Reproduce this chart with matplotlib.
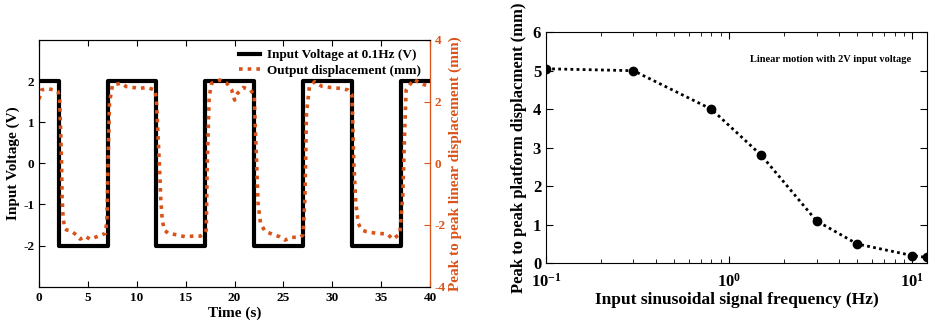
import matplotlib.pyplot as plt
import numpy as np

plt.rcParams['font.family'] = ['Liberation Serif', 'DejaVu Serif']
plt.rcParams['font.weight'] = 'bold'
plt.rcParams['axes.labelweight'] = 'bold'
plt.rcParams['axes.unicode_minus'] = False
plt.rcParams['mathtext.fontset'] = 'custom'
plt.rcParams['mathtext.rm'] = 'Liberation Serif:bold'
plt.rcParams['mathtext.default'] = 'rm'

ORANGE = '#D95319'

# input square wave (V)
volt_t = [0, 2, 2, 7, 7, 12, 12, 17, 17, 22, 22, 27, 27, 32, 32, 37, 37, 40]
volt_v = [2, 2, -2, -2, 2, 2, -2, -2, 2, 2, -2, -2, 2, 2, -2, -2, 2, 2]

# measured displacement (mm)
disp_t = [0.0, 0.25, 0.8, 1.6, 1.95, 2.1, 2.2, 2.3, 2.35, 2.45, 2.6, 2.8, 3.3, 3.8, 4.2,
          4.7, 5.2, 5.9, 6.4, 6.8, 6.95, 7.05, 7.2, 7.5, 8.4, 8.9, 9.6, 10.3, 11.0, 11.85,
          12.0, 12.3, 12.45, 12.6, 12.8, 13.2, 14.1, 14.9, 15.8, 16.5, 16.9, 17.1, 17.2,
          17.4, 17.65, 18.5, 19.2, 19.7, 20.0, 20.3, 20.9, 21.6, 22.0, 22.25, 22.4, 22.65,
          23.1, 24.0, 24.6, 25.15, 25.8, 26.7, 27.0, 27.2, 27.35, 27.65, 28.2, 28.9, 29.8,
          30.8, 31.6, 32.0, 32.2, 32.4, 32.65, 33.0, 33.5, 34.5, 35.6, 36.2, 36.9, 37.2,
          37.4, 37.55, 38.3, 39.0, 39.8]
disp_mm = [2.08, 2.38, 2.42, 2.38, 2.32, 2.05, 1.08, 0.0, -1.08, -1.73, -2.1, -2.16, -2.2,
           -2.32, -2.46, -2.36, -2.46, -2.38, -2.32, -2.27, -1.73, 0.0, 1.95, 2.54, 2.6,
           2.49, 2.46, 2.43, 2.46, 2.38, 2.05, 0.0, -1.19, -1.84, -2.16, -2.27, -2.32,
           -2.38, -2.36, -2.36, -2.29, -2.16, 0.0, 2.16, 2.6, 2.7, 2.6, 2.38, 2.05, 2.27,
           2.46, 2.38, 2.22, 0.0, -1.3, -1.95, -2.2, -2.32, -2.38, -2.49, -2.4, -2.4, -2.32,
           -1.08, 1.62, 2.49, 2.65, 2.5, 2.46, 2.43, 2.38, 2.22, 0.0, -1.3, -1.95, -2.16,
           -2.22, -2.27, -2.29, -2.46, -2.29, -1.08, 1.08, 2.38, 2.72, 2.6, 2.5]

# frequency response
freq_hz = [0.1, 0.3, 0.8, 1.5, 3, 5, 10, 12]
p2p_mm = [5.05, 5.0, 4.0, 2.8, 1.1, 0.5, 0.2, 0.15]

fig = plt.figure(figsize=(9.31, 3.25), dpi=100)

# ---- left panel
ax1 = fig.add_axes([0.042, 0.118, 0.420, 0.759])
ax1.plot(volt_t, volt_v, color='black', lw=3, label='Input Voltage at 0.1Hz (V)')
ax1.set_xlim(0, 40)
ax1.set_ylim(-3, 3)
ax1.set_yticks([-2, -1, 0, 1, 2])
ax1.set_xticks(range(0, 41, 5))
ax1.tick_params(direction='in', labelsize=9.5, top=True, length=4, width=0.8)
ax1.set_xlabel('Time (s)', fontsize=11, labelpad=2)
ax1.set_ylabel('Input Voltage (V)', fontsize=11, labelpad=2)

ax2 = ax1.twinx()
ax2.plot(disp_t, disp_mm, color=ORANGE, lw=2.6, ls=(0, (1, 1.4)), label='Output displacement (mm)')
ax2.set_ylim(-4, 4)
ax2.set_yticks([-4, -2, 0, 2, 4])
ax2.tick_params(direction='in', labelsize=9.5, colors=ORANGE, length=4, width=0.8)
ax2.spines['right'].set_color(ORANGE)
ax2.set_ylabel('Peak to peak linear displacement (mm)', fontsize=11, color=ORANGE, labelpad=2)

h1, l1 = ax1.get_legend_handles_labels()
h2, l2 = ax2.get_legend_handles_labels()
ax2.legend(h1 + h2, l1 + l2, loc='upper right', frameon=False,
           handlelength=1.6, handletextpad=0.5, borderaxespad=0.3, labelspacing=0.25,
           prop={'weight': 'bold', 'size': 9.5})

# ---- right panel
ax3 = fig.add_axes([0.5865, 0.190, 0.409, 0.711])
ax3.plot(freq_hz, p2p_mm, color='black', lw=2, ls=(0, (1, 1.2)),
         marker='o', ms=6, mfc='black', mec='black')
ax3.set_xscale('log')
ax3.set_xlim(0.1, 12)
ax3.set_ylim(0, 6)
ax3.set_yticks(range(0, 7))
ax3.tick_params(which='both', direction='in', top=True, right=True, labelsize=12)
ax3.tick_params(axis='x', which='major', pad=7)
ax3.tick_params(which='major', length=5)
ax3.tick_params(which='minor', length=3)
ax3.set_xticks([0.1, 1, 10])
ax3.set_xticklabels([r'$10^{-1}$', r'$10^{0}$', r'$10^{1}$'])
ax3.set_xlabel('Input sinusoidal signal frequency (Hz)', fontsize=12.5, labelpad=1)
ax3.set_ylabel('Peak to peak platform displacment (mm)', fontsize=12, labelpad=4)
ax3.text(0.96, 0.88, 'Linear motion with 2V input voltage', transform=ax3.transAxes,
         ha='right', va='center', fontsize=7.5, fontweight='bold')

fig.savefig('out.png', dpi=100)
